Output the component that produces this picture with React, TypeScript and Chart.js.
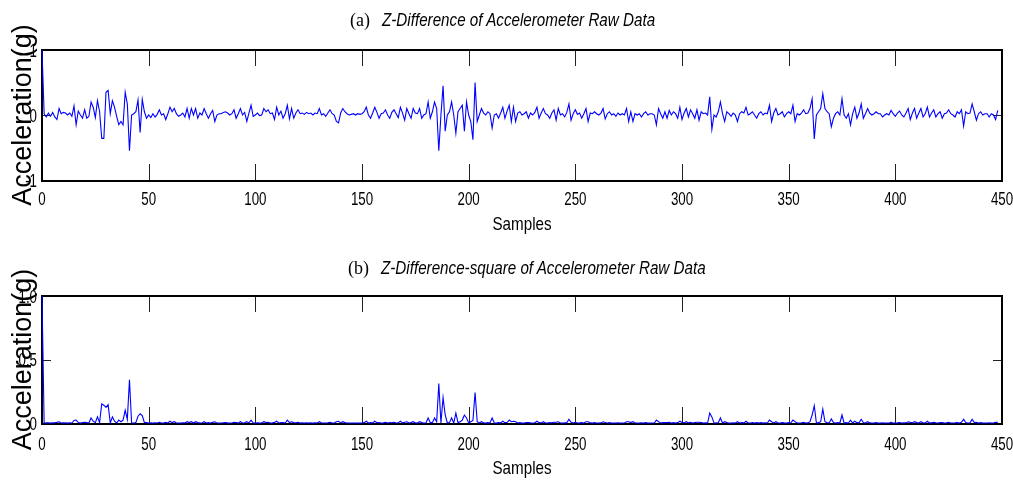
import React, { useEffect, useRef } from 'react';
import { Chart, registerables } from 'chart.js';

Chart.register(...registerables);

const X_TICKS = [0, 50, 100, 150, 200, 250, 300, 350, 400, 450];
const TOP_Y_TICKS = [-1, 0, 1];
const BOTTOM_Y_TICKS = [0, 0.5, 1];

const TITLE_A_TAG = '(a)';
const TITLE_A = 'Z-Difference of Accelerometer Raw Data';
const TITLE_B_TAG = '(b)';
const TITLE_B = 'Z-Difference-square of Accelerometer Raw Data';
const X_LABEL = 'Samples';
const Y_LABEL = 'Acceleration(g)';

const Z_DIFF = [
  1, 0.02, -0.03, 0.03, -0.02, 0.04, -0.03, -0.07, 0.1, 0.02,
  0.04, 0.03, 0, 0.03, -0.02, 0.14, -0.15, 0.06, 0, -0.05,
  0.08, -0.05, -0.02, 0.2, 0.12, -0.04, 0.22, 0.05, -0.36, -0.36,
  0.35, 0.38, 0.02, 0.22, 0.12, -0.02, -0.15, -0.1, -0.15, 0.35,
  0.17, -0.55, 0, 0.02, 0.05, 0.23, -0.27, 0.24, 0.05, -0.05,
  0, -0.04, 0.02, -0.03, 0.01, 0.08, 0, 0.02, -0.07, 0.02,
  0.12, 0.05, 0.1, 0.02, -0.02, 0, 0.03, -0.03, 0.1, -0.05,
  0.1, 0, 0.1, -0.05, 0.03, 0, 0.1, 0.02, -0.05, 0.02,
  0.07, -0.1, 0, 0.02, 0.02, 0.04, 0.05, 0.03, 0, 0.02,
  0.08, -0.05, 0.02, 0.1, 0, 0.04, -0.1, 0.03, 0.15, -0.02,
  0, 0.03, -0.01, 0, 0.1, 0.05, 0.08, 0.02, 0.03, -0.07,
  0.12, 0, 0.06, -0.05, 0.02, 0.15, -0.06, 0.1, -0.05, 0.03,
  0.08, 0.02, 0.03, 0.01, 0.04, 0.02, 0.03, 0, 0.03, 0.02,
  0.1, 0, 0.02, -0.02, 0.03, 0.08, 0.02, 0, -0.1, -0.12,
  0.03, 0.1, 0.05, 0.02, 0, 0.01, 0.02, 0, 0.02, 0.01,
  0.02, 0.05, 0.12, 0, -0.05, 0.03, 0.12, 0.04, -0.05, 0.02,
  0.03, 0.08, 0, -0.05, 0.04, 0.08, 0.02, -0.04, 0.12, 0.03,
  -0.08, 0.1, 0.02, -0.05, 0.1, 0.03, 0.02, 0.1, -0.05, 0,
  0.02, 0.2, -0.05, 0.05, 0.2, 0.1, -0.55, 0, 0.45, -0.25,
  0, 0.05, 0.2, 0, -0.28, 0.05, 0.1, 0.15, -0.25, 0.2,
  0, -0.1, -0.38, 0.5, -0.1, 0, 0.1, 0.03, 0, 0.05,
  0.02, -0.2, 0, 0.02, -0.05, 0.03, 0.12, -0.05, 0.06, 0.15,
  -0.1, 0.12, -0.1, 0.03, 0.05, 0, 0.02, 0.05, -0.05, 0.03,
  0, 0.04, 0.12, -0.05, 0.03, 0.1, 0.02, 0, -0.05, 0.03,
  0.08, -0.08, 0.1, 0, 0.02, -0.03, 0.04, 0.17, -0.08, 0.02,
  0.08, 0.01, 0.03, -0.05, 0.02, 0.1, -0.1, 0.03, 0.02, 0.05,
  0.02, 0, 0.03, 0.1, -0.06, 0.02, 0.05, 0, 0.02, -0.02,
  0.03, 0, 0.02, 0, 0.1, -0.1, 0.05, -0.1, 0.02, 0,
  0.02, -0.03, 0.02, 0.05, 0, 0.02, 0.02, 0, -0.15, 0.1,
  0.02, -0.05, 0.05, -0.05, 0.07, 0, 0.05, 0.02, -0.05, 0.12,
  -0.07, 0.03, 0.1, -0.03, 0.08, 0.02, -0.05, 0.08, -0.08, 0.05,
  0.02, 0.03, 0, 0.28, -0.22, 0, -0.03, 0.05, 0.2, 0.02,
  -0.1, 0.05, 0.02, -0.02, 0.03, 0, -0.1, 0.02, 0.05, 0.03,
  0.12, 0, 0.02, 0.05, 0, -0.05, 0.02, 0.05, 0, 0.03,
  0.02, 0.15, -0.1, 0.03, 0.1, 0, 0.02, 0.05, -0.03, 0.02,
  0.05, 0.02, 0.15, -0.1, 0.02, 0, 0.03, 0.08, 0.02, 0.03,
  0.1, 0.25, -0.37, 0, 0.05, 0.1, 0.33, 0.1, 0.05, 0.02,
  -0.18, -0.05, 0.02, 0.05, 0, 0.25, 0, -0.05, 0.02, -0.15,
  0.02, 0.12, -0.05, 0.03, 0.17, -0.05, 0.02, 0.1, 0.03, 0,
  0.02, 0.05, 0.02, 0.02, -0.03, 0, 0.02, 0, 0.07, 0.02,
  -0.02, 0.03, 0.06, 0, -0.03, 0.03, 0.1, -0.07, 0.03, 0.1,
  -0.05, 0.03, 0.1, -0.03, 0.02, 0.12, -0.03, 0.03, 0.08, -0.03,
  0.02, 0.05, -0.05, 0.02, 0.03, 0.08, 0.02, 0, -0.03, 0.05,
  0.02, 0.08, -0.17, 0.05, 0.02, 0.03, 0.17, 0.05, -0.08, 0.02,
  0.05, 0, 0.02, 0.02, -0.03, 0.02, 0, -0.07, 0.07,
];

const Z_DIFF_SQ = [
  1, 0, 0.001, 0.001, 0, 0.002, 0.001, 0.005, 0.01, 0,
  0.002, 0.001, 0, 0.001, 0, 0.02, 0.023, 0.004, 0, 0.003,
  0.006, 0.003, 0, 0.04, 0.014, 0.002, 0.048, 0.003, 0.15, 0.14,
  0.123, 0.144, 0, 0.048, 0.014, 0, 0.023, 0.01, 0.023, 0.1,
  0.029, 0.34, 0, 0, 0.003, 0.053, 0.073, 0.058, 0.003, 0.003,
  0, 0.002, 0, 0.001, 0, 0.006, 0, 0, 0.005, 0,
  0.014, 0.003, 0.01, 0, 0, 0, 0.001, 0.001, 0.01, 0.003,
  0.01, 0, 0.01, 0.003, 0.001, 0, 0.01, 0, 0.003, 0,
  0.005, 0.01, 0, 0, 0, 0.002, 0.003, 0.001, 0, 0,
  0.006, 0.003, 0, 0.01, 0, 0.002, 0.01, 0.001, 0.023, 0,
  0, 0.001, 0, 0, 0.01, 0.003, 0.006, 0, 0.001, 0.005,
  0.014, 0, 0.004, 0.003, 0, 0.023, 0.004, 0.01, 0.003, 0.001,
  0.006, 0, 0.001, 0, 0.002, 0, 0.001, 0, 0.001, 0,
  0.01, 0, 0, 0, 0.001, 0.006, 0, 0, 0.01, 0.014,
  0.001, 0.01, 0.003, 0, 0, 0, 0, 0, 0, 0,
  0, 0.003, 0.014, 0, 0.003, 0.001, 0.014, 0.002, 0.003, 0,
  0.001, 0.006, 0, 0.003, 0.002, 0.006, 0, 0.002, 0.014, 0.001,
  0.006, 0.01, 0, 0.003, 0.01, 0.001, 0, 0.01, 0.003, 0,
  0, 0.04, 0.003, 0.003, 0.04, 0.01, 0.31, 0, 0.2, 0.063,
  0, 0.003, 0.04, 0, 0.078, 0.003, 0.01, 0.023, 0.063, 0.04,
  0, 0.01, 0.02, 0.24, 0.01, 0, 0.01, 0.001, 0, 0.003,
  0, 0.04, 0, 0, 0.003, 0.001, 0.014, 0.003, 0.004, 0.023,
  0.01, 0.014, 0.01, 0, 0.003, 0, 0, 0.003, 0.003, 0.001,
  0, 0.002, 0.014, 0.003, 0.001, 0.01, 0, 0, 0.003, 0.001,
  0.006, 0.006, 0.01, 0, 0, 0.001, 0.002, 0.029, 0.006, 0,
  0.006, 0, 0.001, 0.003, 0, 0.01, 0.01, 0.001, 0, 0.003,
  0, 0, 0.001, 0.01, 0.004, 0, 0.003, 0, 0, 0,
  0.001, 0, 0, 0, 0.01, 0.01, 0.003, 0.01, 0, 0,
  0, 0.001, 0, 0.003, 0, 0, 0, 0, 0.023, 0.01,
  0, 0.003, 0.003, 0.003, 0.005, 0, 0.003, 0, 0.003, 0.014,
  0.005, 0.001, 0.01, 0.001, 0.006, 0, 0.003, 0.006, 0.006, 0.003,
  0, 0.001, 0, 0.078, 0.048, 0, 0.001, 0.003, 0.04, 0,
  0.01, 0.003, 0, 0, 0.001, 0, 0.01, 0, 0.003, 0.001,
  0.014, 0, 0, 0.003, 0, 0.003, 0, 0.003, 0, 0.001,
  0, 0.023, 0.01, 0.001, 0.01, 0, 0, 0.003, 0.001, 0,
  0.003, 0, 0.023, 0.01, 0, 0, 0.001, 0.006, 0, 0.001,
  0.01, 0.063, 0.137, 0, 0.003, 0.01, 0.109, 0.01, 0.003, 0,
  0.032, 0.003, 0, 0.003, 0, 0.063, 0, 0.003, 0, 0.023,
  0, 0.014, 0.003, 0.001, 0.029, 0.003, 0, 0.01, 0.001, 0,
  0, 0.003, 0, 0, 0.001, 0, 0, 0, 0.005, 0,
  0, 0.001, 0.004, 0, 0.001, 0.001, 0.01, 0.005, 0.001, 0.01,
  0.003, 0.001, 0.01, 0.001, 0, 0.014, 0.001, 0.001, 0.006, 0.001,
  0, 0.003, 0.003, 0, 0.001, 0.006, 0, 0, 0.001, 0.003,
  0, 0.006, 0.029, 0.003, 0, 0.001, 0.029, 0.003, 0.006, 0,
  0.003, 0, 0, 0, 0.001, 0, 0, 0.005, 0.005,
];

const SANS = '"Liberation Sans", Arial, sans-serif';
const SERIF = '"Liberation Serif", "Times New Roman", serif';
const NARROW_SCALE = 0.74;

const framePlugin = {
  id: 'frame',
  beforeDatasetsDraw(chart: any) {
    const { ctx, chartArea: a, scales } = chart;
    ctx.save();
    ctx.strokeStyle = '#222';
    ctx.lineWidth = 1;
    ctx.beginPath();
    for (const t of scales.x.ticks) {
      const px = Math.round(scales.x.getPixelForValue(t.value)) + 0.5;
      ctx.moveTo(px, a.top);
      ctx.lineTo(px, a.top + 16);
      ctx.moveTo(px, a.bottom);
      ctx.lineTo(px, a.bottom - 16);
    }
    for (const t of scales.y.ticks) {
      const py = Math.round(scales.y.getPixelForValue(t.value)) + 0.5;
      ctx.moveTo(a.left, py);
      ctx.lineTo(a.left + 9, py);
      ctx.moveTo(a.right, py);
      ctx.lineTo(a.right - 9, py);
    }
    ctx.stroke();
    ctx.strokeStyle = '#000';
    ctx.lineWidth = 2;
    ctx.strokeRect(a.left, a.top, a.right - a.left, a.bottom - a.top + 1);
    ctx.restore();
  },
  afterDraw(chart: any, _args: any, opts: any) {
    const { ctx, chartArea: a, scales } = chart;
    ctx.save();
    ctx.fillStyle = '#000';
    ctx.textBaseline = 'alphabetic';
    ctx.font = `18px ${SANS}`;
    ctx.textAlign = 'center';
    for (const t of scales.x.ticks) {
      const px = scales.x.getPixelForValue(t.value);
      ctx.save();
      ctx.translate(px, a.bottom + opts.labelOffset);
      ctx.scale(NARROW_SCALE, 1);
      ctx.fillText(t.label ?? String(t.value), 0, 0);
      ctx.restore();
    }
    ctx.textAlign = 'right';
    for (const t of scales.y.ticks) {
      const py = scales.y.getPixelForValue(t.value);
      ctx.save();
      ctx.translate(a.left - 5, py + 6.5);
      ctx.scale(NARROW_SCALE, 1);
      ctx.fillText(t.label ?? String(t.value), 0, 0);
      ctx.restore();
    }
    ctx.font = `19px ${SANS}`;
    ctx.textAlign = 'center';
    ctx.save();
    ctx.translate((a.left + a.right) / 2, a.bottom + opts.titleOffset);
    ctx.scale(0.8, 1);
    ctx.fillText(X_LABEL, 0, 0);
    ctx.restore();
    ctx.restore();
  },
};

type PanelProps = {
  values: number[];
  yTicks: number[];
  yMin: number;
  yMax: number;
  top: number;
  height: number;
  padTop: number;
  xAxisHeight: number;
  labelOffset: number;
  titleOffset: number;
};

function Panel(p: PanelProps) {
  const ref = useRef<HTMLCanvasElement | null>(null);
  useEffect(() => {
    if (!ref.current) return;
    const chart = new Chart(ref.current, {
      type: 'line',
      data: {
        datasets: [
          {
            data: p.values.map((y, i) => ({ x: i, y })),
            borderColor: '#0000ff',
            borderWidth: 1.1,
            pointRadius: 0,
            tension: 0,
            fill: false,
            clip: false,
          },
        ],
      },
      options: {
        responsive: false,
        animation: false,
        events: [],
        layout: { padding: { top: p.padTop, right: 11, bottom: 0, left: 0 } },
        plugins: {
          legend: { display: false },
          tooltip: { enabled: false },
          frame: { labelOffset: p.labelOffset, titleOffset: p.titleOffset },
        } as any,
        scales: {
          x: {
            type: 'linear',
            min: 0,
            max: 450,
            grid: { display: false, drawTicks: false },
            border: { display: false },
            afterBuildTicks: (s: any) => {
              s.ticks = X_TICKS.map((v) => ({ value: v }));
            },
            afterFit: (s: any) => {
              s.height = p.xAxisHeight;
              s.paddingLeft = 0;
              s.paddingRight = 0;
            },
            ticks: { display: false, autoSkip: false },
            title: { display: false },
          },
          y: {
            type: 'linear',
            min: p.yMin,
            max: p.yMax,
            grid: { display: false, drawTicks: false },
            border: { display: false },
            afterBuildTicks: (s: any) => {
              s.ticks = p.yTicks.map((v) => ({ value: v }));
            },
            afterFit: (s: any) => {
              s.width = 42;
              s.paddingTop = 0;
              s.paddingBottom = 0;
            },
            ticks: { display: false, autoSkip: false },
            title: {
              display: true,
              text: Y_LABEL,
              color: '#000',
              font: { family: SANS, size: 27, lineHeight: 1 },
              padding: { top: 10, bottom: 0 },
            },
          },
        },
      },
      plugins: [framePlugin],
    } as any);
    return () => chart.destroy();
  }, []);
  return (
    <canvas
      ref={ref}
      width={1013}
      height={p.height}
      style={{ position: 'absolute', left: 0, top: p.top, width: 1013, height: p.height, display: 'block' }}
    />
  );
}

function Title(props: { tag: string; text: string; left: number; top: number }) {
  return (
    <div
      style={{
        position: 'absolute',
        left: props.left,
        top: props.top,
        whiteSpace: 'nowrap',
        lineHeight: '19px',
        color: '#000',
      }}
    >
      <span style={{ fontFamily: SERIF, fontSize: 18 }}>{props.tag}</span>
      <span
        style={{
          display: 'inline-block',
          fontFamily: SANS,
          fontStyle: 'italic',
          fontSize: 19,
          marginLeft: 12,
          transform: 'scaleX(0.8)',
          transformOrigin: 'left center',
        }}
      >
        {props.text}
      </span>
    </div>
  );
}

export default function App() {
  return (
    <div style={{ position: 'absolute', left: 0, top: 0, width: 1013, height: 489, background: '#fff', overflow: 'hidden' }}>
      <Panel values={Z_DIFF} yTicks={TOP_Y_TICKS} yMin={-1} yMax={1} top={0} height={245} padTop={50} xAxisHeight={65} labelOffset={25} titleOffset={50} />
      <Panel values={Z_DIFF_SQ} yTicks={BOTTOM_Y_TICKS} yMin={0} yMax={1} top={245} height={244} padTop={51} xAxisHeight={66} labelOffset={27} titleOffset={51} />
      <Title tag={TITLE_A_TAG} text={TITLE_A} left={350} top={10} />
      <Title tag={TITLE_B_TAG} text={TITLE_B} left={348} top={258} />
    </div>
  );
}
